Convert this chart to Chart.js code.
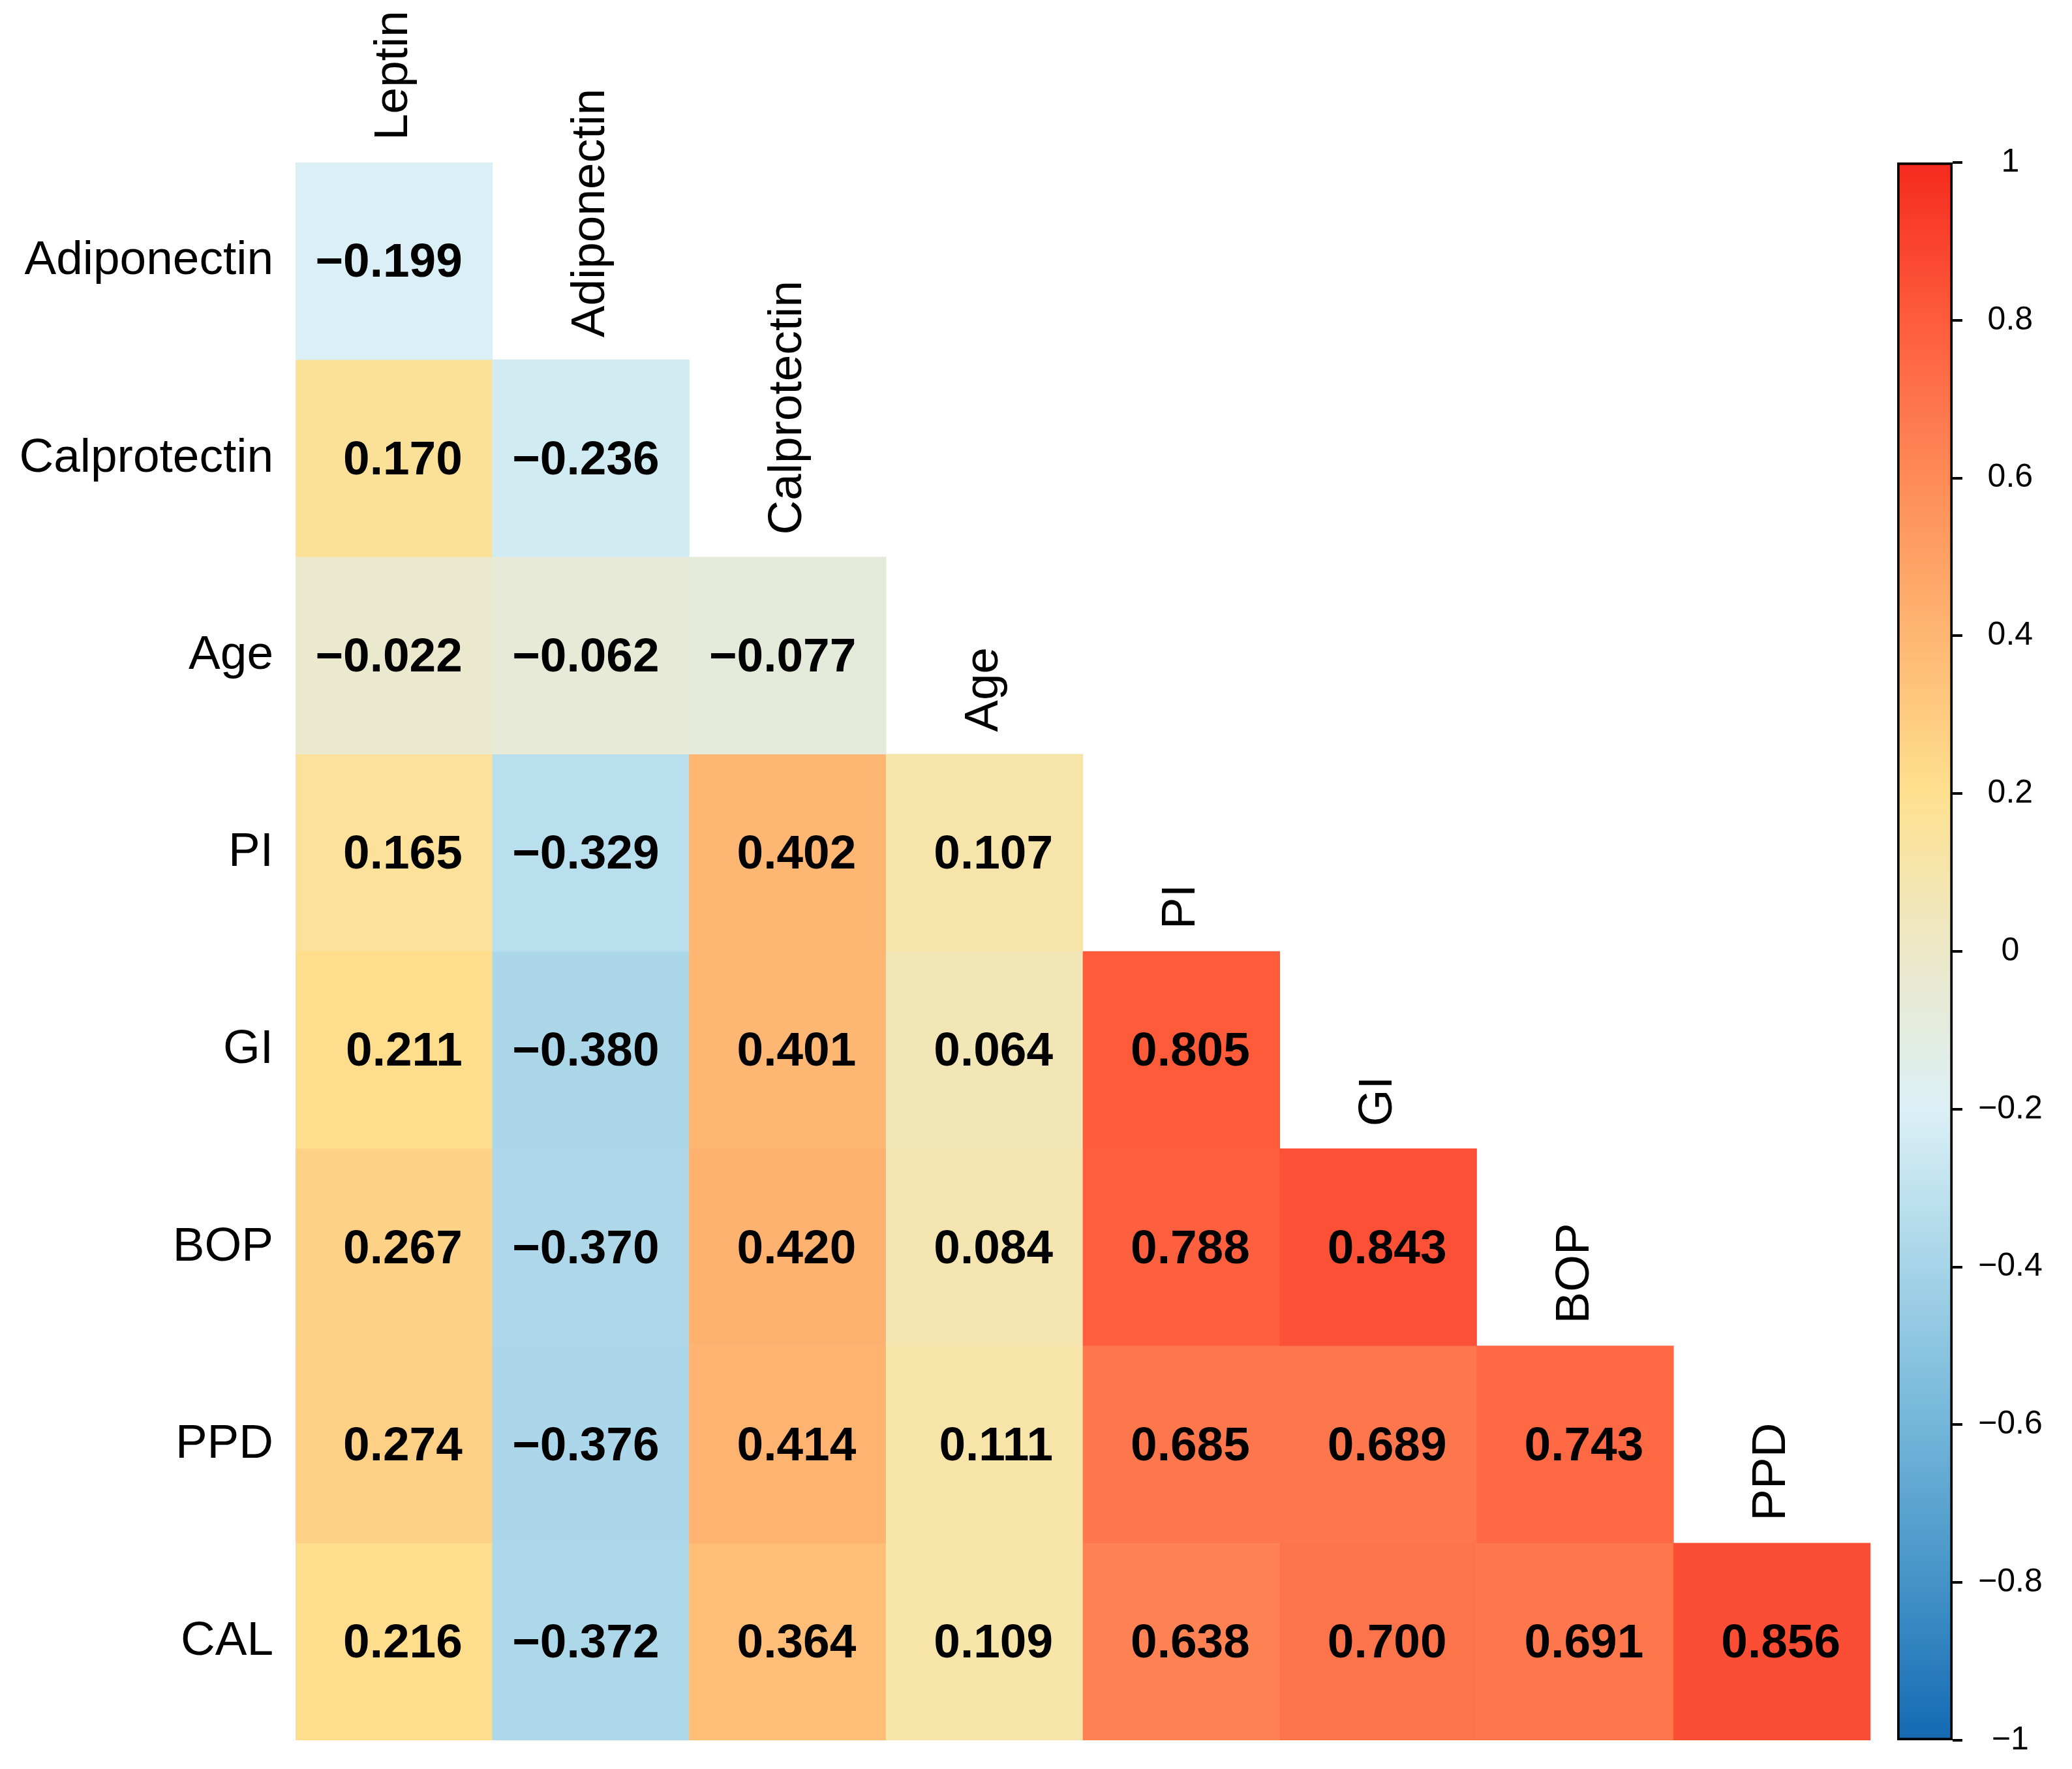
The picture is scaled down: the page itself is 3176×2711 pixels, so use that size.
<!DOCTYPE html>
<html>
<head>
<meta charset="utf-8">
<script src="https://cdn.jsdelivr.net/npm/chart.js@4.4.1/dist/chart.umd.min.js"></script>
<style>
  html, body { margin: 0; padding: 0; background: #ffffff; }
  #wrap { position: relative; width: 3176px; height: 2711px; background: #ffffff; }
  #main { position: absolute; left: 0; top: 0; }
  #bar { position: absolute; left: 2850px; top: 0; }
</style>
</head>
<body>
<div id="wrap">
  <canvas id="main" width="3176" height="2711"></canvas>
  <canvas id="bar" width="326" height="2711"></canvas>
</div>
<script>
// ---- data ----
const rowLabels = ['Adiponectin', 'Calprotectin', 'Age', 'PI', 'GI', 'BOP', 'PPD', 'CAL'];
const colLabels = ['Leptin', 'Adiponectin', 'Calprotectin', 'Age', 'PI', 'GI', 'BOP', 'PPD'];
const adiponectinRow = [-0.199];
const calprotectinRow = [0.170, -0.236];
const ageRow = [-0.022, -0.062, -0.077];
const piRow = [0.165, -0.329, 0.402, 0.107];
const giRow = [0.211, -0.380, 0.401, 0.064, 0.805];
const bopRow = [0.267, -0.370, 0.420, 0.084, 0.788, 0.843];
const ppdRow = [0.274, -0.376, 0.414, 0.111, 0.685, 0.689, 0.743];
const calRow = [0.216, -0.372, 0.364, 0.109, 0.638, 0.700, 0.691, 0.856];
const rowValues = [adiponectinRow, calprotectinRow, ageRow, piRow, giRow, bopRow, ppdRow, calRow];
const colorbarTicks = [-1, -0.8, -0.6, -0.4, -0.2, 0, 0.2, 0.4, 0.6, 0.8, 1];

// ---- colour scale (style) ----
const colorStops = [
  [-1.0, '#1469B2'], [-0.8, '#4493C8'], [-0.6, '#73B6D9'], [-0.4, '#A6D4E8'],
  [-0.2, '#DBF0F6'], [0.0, '#ECE8C8'], [0.2, '#FEE08F'], [0.4, '#FEB673'],
  [0.6, '#FE8B58'], [0.8, '#FE5C3C'], [1.0, '#F52A1E']
];
function hexToRgb(h) { return [parseInt(h.slice(1,3),16), parseInt(h.slice(3,5),16), parseInt(h.slice(5,7),16)]; }
function colorFor(v) {
  for (let k = 0; k < colorStops.length - 1; k++) {
    const [v0, c0] = colorStops[k], [v1, c1] = colorStops[k+1];
    if (v >= v0 && v <= v1) {
      const t = (v - v0) / (v1 - v0);
      const a = hexToRgb(c0), b = hexToRgb(c1);
      const m = a.map((x, i) => Math.round(x + (b[i] - x) * t));
      return `rgb(${m[0]},${m[1]},${m[2]})`;
    }
  }
  return colorStops[colorStops.length-1][1];
}
const fmt = v => v.toFixed(3).replace('-', '\u2212');
const FONT = '"Liberation Sans", Arial, Helvetica, sans-serif';

// ---- main heatmap ----
const datasets = rowLabels.map((name, i) => ({
  label: name,
  data: colLabels.map((c, j) => j < rowValues[i].length ? [i, i + 1] : null),
  backgroundColor: colLabels.map((c, j) => j < rowValues[i].length ? colorFor(rowValues[i][j]) : 'rgba(0,0,0,0)'),
  borderWidth: 0,
  grouped: false,
  barPercentage: 1.0,
  categoryPercentage: 1.0
}));

const textPlugin = {
  id: 'cellText',
  afterDatasetsDraw(chart) {
    const ctx = chart.ctx;
    ctx.save();
    ctx.fillStyle = '#000000';
    ctx.font = 'bold 73px ' + FONT;
    ctx.textAlign = 'right';
    ctx.textBaseline = 'middle';
    rowValues.forEach((vals, i) => {
      const meta = chart.getDatasetMeta(i);
      vals.forEach((v, j) => {
        const el = meta.data[j];
        const right = el.x + el.width / 2;
        const cy = (el.y + el.base) / 2;
        ctx.fillText(fmt(v), right - 46, cy + 4);
      });
    });
    // column labels, rotated
    const xs = chart.scales.x, ys = chart.scales.y;
    ctx.font = '73px ' + FONT;
    ctx.textAlign = 'left';
    ctx.textBaseline = 'middle';
    colLabels.forEach((name, j) => {
      const cx = xs.getPixelForValue(j);
      const top = ys.getPixelForValue(j);
      ctx.save();
      ctx.translate(cx, top - 34);
      ctx.rotate(-Math.PI / 2);
      ctx.fillText(name, 0, 0);
      ctx.restore();
    });
    ctx.restore();
  }
};

new Chart(document.getElementById('main'), {
  type: 'bar',
  data: { labels: colLabels, datasets },
  options: {
    responsive: false,
    devicePixelRatio: 1,
    animation: false,
    layout: { padding: { left: 0, top: 249, right: 309, bottom: 44 } },
    plugins: { legend: { display: false }, tooltip: { enabled: false } },
    scales: {
      x: { type: 'category', display: false, offset: true, grid: { display: false } },
      y: {
        type: 'linear', min: 0, max: 8, reverse: true,
        afterBuildTicks(axis) { axis.ticks = rowLabels.map((_, i) => ({ value: i + 0.5 })); },
        afterFit(axis) { axis.width = 453; axis.paddingTop = 0; axis.paddingBottom = 0; },
        grid: { display: false, drawTicks: false },
        border: { display: false },
        ticks: {
          autoSkip: false,
          padding: 34,
          color: '#000000',
          font: { family: FONT, size: 73 },
          callback: (value, index) => rowLabels[index]
        }
      }
    }
  },
  plugins: [textPlugin]
});

// ---- colour bar ----
new Chart(document.getElementById('bar'), {
  type: 'bar',
  data: {
    labels: [''],
    datasets: [{
      data: [[-1, 1]],
      backgroundColor(context) {
        const chart = context.chart;
        const area = chart.chartArea;
        if (!area) return '#ffffff';
        const g = chart.ctx.createLinearGradient(0, area.bottom, 0, area.top);
        colorStops.forEach(([v, c]) => g.addColorStop((v + 1) / 2, c));
        return g;
      },
      borderColor: '#000000',
      borderWidth: 4,
      borderSkipped: false,
      barPercentage: 1.0,
      categoryPercentage: 1.0
    }]
  },
  options: {
    responsive: false,
    devicePixelRatio: 1,
    animation: false,
    layout: { padding: { left: 58, top: 249, right: 0, bottom: 44 } },
    plugins: { legend: { display: false }, tooltip: { enabled: false } },
    scales: {
      x: { display: false, offset: true },
      y: {
        type: 'linear', position: 'right', min: -1, max: 1,
        afterBuildTicks(axis) { axis.ticks = colorbarTicks.map(v => ({ value: v })); },
        afterFit(axis) { axis.width = 183; axis.paddingTop = 0; axis.paddingBottom = 0; },
        border: { display: false },
        grid: { drawOnChartArea: false, drawTicks: true, tickLength: 15, lineWidth: 4, color: '#000000' },
        ticks: {
          autoSkip: false,
          padding: 24,
          crossAlign: 'center',
          color: '#000000',
          font: { family: FONT, size: 50 },
          callback: (value) => String(Math.round(value * 10) / 10).replace('-', '\u2212')
        }
      }
    }
  }
});
</script>
</body>
</html>
